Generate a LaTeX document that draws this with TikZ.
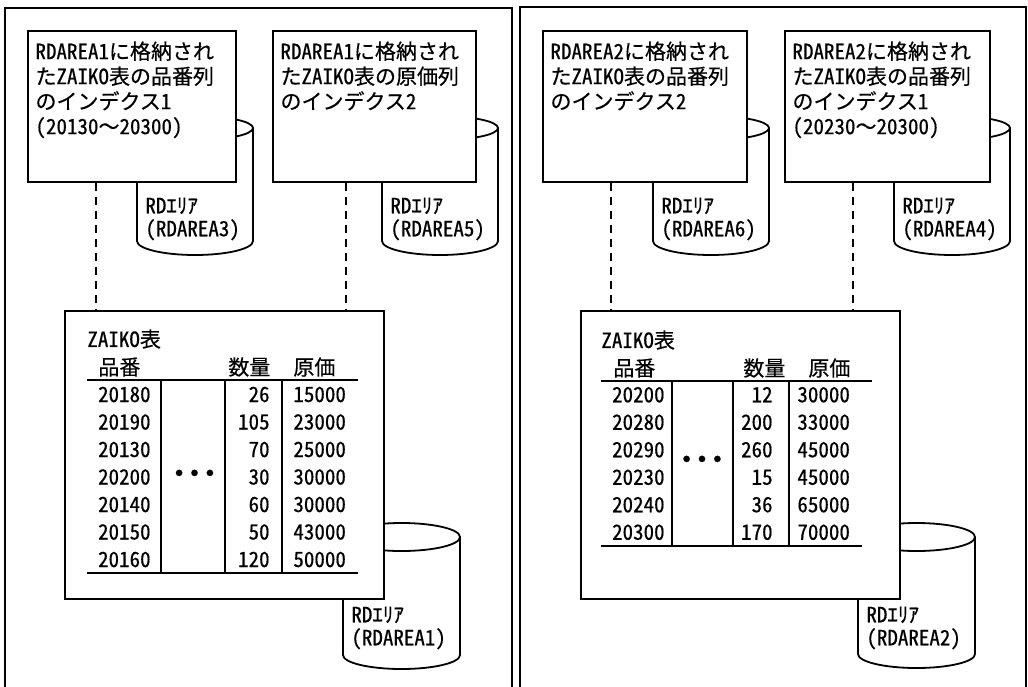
\documentclass[tikz,border=0pt]{standalone}
\usepackage{fontspec}
\setmainfont{Noto Sans CJK JP}[FakeBold=0.4]
\newfontfamily\hwfont{Noto Sans CJK JP}[RawFeature=+hwid,FakeBold=0.4]
\newcommand{\hwtxt}[1]{{\hwfont #1}}
\usetikzlibrary{positioning,calc}

\tikzset{
  panel/.style={line width=0.9pt},
  ibox/.style={draw,line width=0.9pt,fill=white,minimum height=75.5pt,inner sep=0pt},
  tbox/.style={draw,line width=0.9pt,fill=white,minimum width=159.5pt,minimum height=144pt,inner sep=0pt},
  cyl/.style={draw,line width=0.9pt,fill=white},
  txt/.style={inner sep=0pt,font=\fontsize{10.5pt}{12.5pt}\selectfont,align=left},
  cyltxt/.style={inner sep=0pt,font=\fontsize{10.5pt}{11.5pt}\selectfont,align=left},
  colnum/.style={inner sep=0pt,font=\hwfont\fontsize{10.5pt}{13.75pt}\selectfont},
  dots/.style={inner sep=0pt,font=\fontsize{15pt}{15pt}\selectfont},
  link/.style={dashed,dash pattern=on 4pt off 3pt,line width=0.75pt},
  rule/.style={line width=0.9pt}
}

\begin{document}
\begin{tikzpicture}[x=0.5pt,y=-0.5pt]
  \useasboundingbox (0,0) rectangle (1028,686);
  % two panels
  \draw[panel] (5,690) -- (5,8) -- (512,8) -- (512,690);
  \draw[panel] (520,690) -- (520,7) -- (1026,7) -- (1026,690);

  % RD areas behind the boxes
  \draw[cyl] (137,128) -- (137,241) arc[start angle=180,end angle=0,x radius=58,y radius=14] -- (253,128);
  \draw[cyl] (195,128) ellipse[x radius=58,y radius=12];
  \draw[cyl] (382,128) -- (382,241) arc[start angle=180,end angle=0,x radius=58,y radius=14] -- (498,128);
  \draw[cyl] (440,128) ellipse[x radius=58,y radius=12];
  \draw[cyl] (653,128) -- (653,241) arc[start angle=180,end angle=0,x radius=58,y radius=14] -- (769,128);
  \draw[cyl] (711,128) ellipse[x radius=58,y radius=12];
  \draw[cyl] (894,128) -- (894,241) arc[start angle=180,end angle=0,x radius=58,y radius=14] -- (1010,128);
  \draw[cyl] (952,128) ellipse[x radius=58,y radius=12];
  \draw[cyl] (343,537) -- (343,655) arc[start angle=180,end angle=0,x radius=58.5,y radius=14] -- (460,537);
  \draw[cyl] (401.5,537) ellipse[x radius=58.5,y radius=14];
  \draw[cyl] (858,537) -- (858,654) arc[start angle=180,end angle=0,x radius=58.5,y radius=14] -- (975,537);
  \draw[cyl] (916.5,537) ellipse[x radius=58.5,y radius=14];

  \node[cyltxt,anchor=west] (c3) at (145,219) {\hwtxt{RD}ｴﾘｱ\\\hwtxt{(RDAREA3)}};
  \node[cyltxt,anchor=west] (c5) at (390,219) {\hwtxt{RD}ｴﾘｱ\\\hwtxt{(RDAREA5)}};
  \node[cyltxt,anchor=west] (c6) at (661,219) {\hwtxt{RD}ｴﾘｱ\\\hwtxt{(RDAREA6)}};
  \node[cyltxt,anchor=west] (c4) at (902,219) {\hwtxt{RD}ｴﾘｱ\\\hwtxt{(RDAREA4)}};
  \node[cyltxt,anchor=west] (c1) at (351,628) {\hwtxt{RD}ｴﾘｱ\\\hwtxt{(RDAREA1)}};
  \node[cyltxt,anchor=west] (c2) at (866,628) {\hwtxt{RD}ｴﾘｱ\\\hwtxt{(RDAREA2)}};

  % index boxes
  \node[ibox,minimum width=104pt] (ix1) at (132,106.5) {};
  \node[ibox,minimum width=101.5pt] (ix2) at (374.5,106.5) {};
  \node[ibox,minimum width=102pt] (ix3) at (645,106.5) {};
  \node[ibox,minimum width=102.5pt] (ix4) at (887.5,106.5) {};
  \node[txt,anchor=north west] (ix1t) at ($(ix1.north west)+(8,11)$) {\hwtxt{RDAREA1}に格納され\\た\hwtxt{ZAIKO}表の品番列\\のインデクス\hwtxt{1}\\\hwtxt{(20130}～\hwtxt{20300)}};
  \node[txt,anchor=north west] (ix2t) at ($(ix2.north west)+(8,11)$) {\hwtxt{RDAREA1}に格納され\\た\hwtxt{ZAIKO}表の原価列\\のインデクス\hwtxt{2}};
  \node[txt,anchor=north west] (ix3t) at ($(ix3.north west)+(8,11)$) {\hwtxt{RDAREA2}に格納され\\た\hwtxt{ZAIKO}表の品番列\\のインデクス\hwtxt{2}};
  \node[txt,anchor=north west] (ix4t) at ($(ix4.north west)+(8,11)$) {\hwtxt{RDAREA2}に格納され\\た\hwtxt{ZAIKO}表の品番列\\のインデクス\hwtxt{1}\\\hwtxt{(20230}～\hwtxt{20300)}};

  % ZAIKO tables
  \node[tbox] (tb1) at (224.5,455) {};
  \node[tbox] (tb2) at (740.5,455) {};

  \coordinate (d1) at ($(ix1.south west)+(69,0)$);
  \coordinate (d2) at ($(ix2.south west)+(74,0)$);
  \coordinate (d3) at ($(ix3.south west)+(69,0)$);
  \coordinate (d4) at ($(ix4.south west)+(69,0)$);
  \draw[link] (d1) -- (d1 |- tb1.north);
  \draw[link] (d2) -- (d2 |- tb1.north);
  \draw[link] (d3) -- (d3 |- tb2.north);
  \draw[link] (d4) -- (d4 |- tb2.north);

  % left table
  \node[txt,anchor=west] (t1) at (87,339) {\hwtxt{ZAIKO}表};
  \node[txt,anchor=west] (h1a) at (98,367) {品番};
  \node[txt,anchor=west] (h1b) at (228,367) {数量};
  \node[txt,anchor=west] (h1c) at (293,367) {原価};
  \draw[rule] (87,380) -- (358,380);
  \draw[rule] (87,573) -- (358,573);
  \draw[rule] (161,380) -- (161,573);
  \draw[rule] (225,380) -- (225,573);
  \draw[rule] (282,380) -- (282,573);
  \node[colnum,anchor=east,align=right] (pn1) at (151,477) {20180\\20190\\20130\\20200\\20140\\20150\\20160};
  \node[dots] (dt1) at (194.5,477) {・\hspace{-7.3pt}・\hspace{-7.3pt}・};
  \node[colnum,anchor=east,align=right] (qt1) at (270,477) {26\\105\\70\\30\\60\\50\\120};
  \node[colnum,anchor=west,align=left] (pr1) at (293,477) {15000\\23000\\25000\\30000\\30000\\43000\\50000};

  % right table
  \node[txt,anchor=west] (t2) at (601,340) {\hwtxt{ZAIKO}表};
  \node[txt,anchor=west] (h2a) at (613,368) {品番};
  \node[txt,anchor=west] (h2b) at (743,368) {数量};
  \node[txt,anchor=west] (h2c) at (808,368) {原価};
  \draw[rule] (601,381) -- (872,381);
  \draw[rule] (601,546) -- (862,546);
  \draw[rule] (672,381) -- (672,546);
  \draw[rule] (733,381) -- (733,546);
  \draw[rule] (789,381) -- (789,546);
  \node[colnum,anchor=east,align=right] (pn2) at (665,463.5) {20200\\20280\\20290\\20230\\20240\\20300};
  \node[dots] (dt2) at (702,463) {・\hspace{-7.3pt}・\hspace{-7.3pt}・};
  \node[colnum,anchor=east,align=right] (qt2) at (773,463.5) {12\\200\\260\\15\\36\\170};
  \node[colnum,anchor=west,align=left] (pr2) at (797,463.5) {30000\\33000\\45000\\45000\\65000\\70000};
\end{tikzpicture}
\end{document}
